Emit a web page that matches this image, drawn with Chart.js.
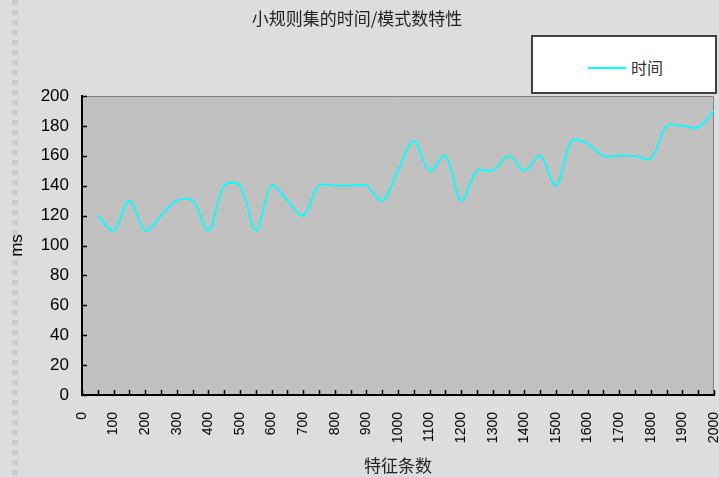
<!DOCTYPE html>
<html>
<head>
<meta charset="utf-8">
<script src="https://cdn.jsdelivr.net/npm/chart.js@4/dist/chart.umd.min.js"></script>
<style>
  html, body { margin: 0; padding: 0; }
  body { width: 719px; height: 477px; background: #dcdddf; position: relative; overflow: hidden; }
  #strip { position: absolute; left: 12px; top: 0; width: 6px; height: 477px;
    background: repeating-linear-gradient(to bottom, #cbcccf 0 5px, transparent 5px 10px); }
  #chart { position: absolute; left: 0; top: 0; }
  #legend { position: absolute; left: 531px; top: 35px; width: 182px; height: 55px;
    background: #fff; border: 2px solid #404040; }
  #legend .swatch { position: absolute; left: 55px; top: 30px; width: 38px; height: 2px; background: #00ffff; }
  #legend .label { position: absolute; left: 98px; top: 20px; font: 16px "Noto Sans CJK SC", sans-serif; color: #333; line-height: 20px; }
</style>
</head>
<body>
<div id="strip"></div>
<canvas id="chart" width="719" height="477"></canvas>
<div id="legend"><span class="swatch"></span><span class="label">时间</span></div>
<script>
// feature count (x) and time in ms (y)
const featureCounts = [50, 100, 150, 200, 250, 300, 350, 400, 450, 500,
  550, 600, 650, 700, 750, 800, 850, 900, 950, 1000,
  1050, 1100, 1150, 1200, 1250, 1300, 1350, 1400, 1450, 1500,
  1550, 1600, 1650, 1700, 1750, 1800, 1850, 1900, 1950, 2000];
const timeMs = [120, 110, 130, 110, 120, 130, 130, 110, 140, 140,
  110, 140, 130, 120, 140, 140, 140, 140, 130, 150,
  170, 150, 160, 130, 150, 150, 160, 150, 160, 140,
  170, 168, 160, 160, 160, 158, 180, 180, 179, 190];

const chartTitle = '小规则集的时间/模式数特性';
const seriesName = '时间';
const xTitle = '特征条数';
const yTitle = 'ms';

const latin = '"Liberation Sans", Arial, sans-serif';
const cjk = '"Noto Sans CJK SC", sans-serif';

// plot background, gray top/right frame, and inward tick marks
const plotFrame = {
    id: 'plotFrame',
    beforeDraw(chart) {
        const { ctx, chartArea: a } = chart;
        ctx.save();
        ctx.fillStyle = '#c0c0c0';
        ctx.fillRect(a.left, a.top, a.right - a.left, a.bottom - a.top);
        ctx.strokeStyle = '#808080';
        ctx.lineWidth = 1;
        ctx.beginPath();
        ctx.moveTo(a.left, a.top + 0.5);
        ctx.lineTo(a.right - 0.5, a.top + 0.5);
        ctx.lineTo(a.right - 0.5, a.bottom);
        ctx.stroke();
        ctx.restore();
    },
    afterDraw(chart) {
        const { ctx, chartArea: a, scales } = chart;
        ctx.save();
        ctx.strokeStyle = '#000';
        ctx.lineWidth = 1.5;
        ctx.beginPath();
        scales.x.ticks.forEach(t => {
            const px = Math.round(scales.x.getPixelForValue(t.value)) + 0.5;
            ctx.moveTo(px, a.bottom);
            ctx.lineTo(px, a.bottom - 5);
        });
        scales.y.ticks.forEach(t => {
            const py = Math.round(scales.y.getPixelForValue(t.value)) + 0.5;
            ctx.moveTo(a.left, py);
            ctx.lineTo(a.left + 5, py);
        });
        ctx.stroke();
        ctx.restore();
    }
};

new Chart(document.getElementById('chart'), {
    type: 'line',
    data: {
        datasets: [{
            label: seriesName,
            data: featureCounts.map((x, i) => ({ x, y: timeMs[i] })),
            borderColor: '#00ffff',
            borderWidth: 1.8,
            pointRadius: 0,
            tension: 0.35,
            fill: false
        }]
    },
    options: {
        responsive: false,
        animation: false,
        devicePixelRatio: 1,
        layout: { padding: { left: 0, right: 5, top: 0, bottom: 0 } },
        scales: {
            x: {
                type: 'linear',
                min: 0,
                max: 2000,
                afterFit(s) { s.height = 82; s.paddingLeft = 0; s.paddingRight = 0; },
                ticks: {
                    stepSize: 50,
                    autoSkip: false,
                    minRotation: 90,
                    maxRotation: 90,
                    padding: 17,
                    color: '#000',
                    font: { family: latin, size: 14 },
                    callback: v => (v % 100 === 0 ? String(v) : '')
                },
                grid: { display: true, drawOnChartArea: false, drawTicks: false },
                border: { display: true, color: '#000', width: 2 },
                title: { display: true, text: xTitle, color: '#222', font: { family: cjk, size: 17 }, padding: { top: 0, bottom: 1 } }
            },
            y: {
                min: 0,
                max: 200,
                afterFit(s) { s.width = 82; s.paddingTop = 0; s.paddingBottom = 0; },
                ticks: { stepSize: 20, padding: 13, color: '#000', font: { family: latin, size: 17 } },
                grid: { display: true, drawOnChartArea: false, drawTicks: false },
                border: { display: true, color: '#000', width: 2 },
                title: { display: true, text: yTitle, color: '#000', font: { family: latin, size: 17 }, padding: { top: 7, bottom: 0 } }
            }
        },
        plugins: {
            legend: { display: false },
            tooltip: { enabled: false },
            title: {
                display: true,
                text: chartTitle,
                color: '#222',
                font: { family: cjk, size: 17, weight: 'normal' },
                padding: { top: 8, bottom: 67.6 }
            }
        }
    },
    plugins: [plotFrame]
});
</script>
</body>
</html>
